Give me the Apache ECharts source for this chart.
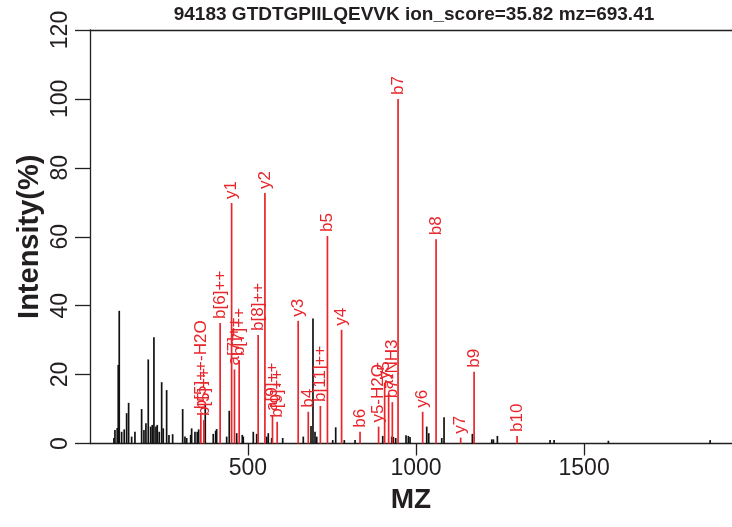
<!DOCTYPE html>
<html>
<head>
<meta charset="utf-8">
<script src="https://cdn.jsdelivr.net/npm/echarts@6/dist/echarts.min.js"></script>
<style>
html,body{margin:0;padding:0;background:#fff;}
#chart{width:732px;height:527px;}
</style>
</head>
<body>
<div id="chart"></div>
<script>
// annotated fragment ions (red)
var ionMz = [359.7, 368.7, 417.2, 451.3, 459.8, 473.8, 530.3, 550.4, 572.9, 586.9,
             649.4, 679.4, 715.4, 736.4, 778.5, 833.4, 888.6, 906.6, 918.5, 929.5,
             946.5, 1019.7, 1059.6, 1132.8, 1172.7, 1300.7];
var ionIntensity = [8.8, 6.8, 35.0, 69.8, 21.5, 24.2, 31.5, 72.7, 8.3, 6.3,
                    35.6, 9.2, 10.9, 60.2, 33.0, 3.4, 4.9, 17.5, 14.6, 12.0,
                    100, 9.2, 59.3, 1.7, 20.8, 2.2];
var ionLabels = ['b[5]++-H2O', 'b[5]++', 'b[6]++', 'y1', 'a[7]++', 'b[7]++', 'b[8]++', 'y2', 'a[9]++', 'b[9]++',
                 'y3', 'b4', 'b[11]++', 'b5', 'y4', 'b6', 'y5-H2O', 'y5', 'a7', 'b7-NH3',
                 'b7', 'y6', 'b8', 'y7', 'b9', 'b10'];

// unannotated peaks (black)
var peakMz = [101.2, 104.2, 111.0, 114.0, 117.0, 124.1, 131.8, 139.0, 144.9, 153.9,
              163.7, 183.6, 190.5, 196.4, 203.3, 210.4, 215.2, 220.2, 226.2, 230.1,
              236.0, 243.2, 247.9, 258.0, 264.9, 275.9, 305.7, 312.5, 317.6, 329.5,
              332.4, 342.3, 349.1, 353.3, 372.9, 396.7, 403.9, 406.8, 436.6, 444.3,
              466.4, 483.0, 486.0, 515.8, 525.9, 555.7, 560.4, 570.5, 603.3, 664.6,
              687.5, 693.4, 699.4, 704.5, 752.1, 761.0, 786.6, 818.5, 900.9, 927.7,
              932.4, 939.6, 970.2, 977.1, 982.1, 1031.8, 1037.8, 1076.5, 1083.3, 1167.6,
              1225.3, 1230.1, 1242.0, 1398.8, 1410.7, 1572.3, 1875.0];
var peakIntensity = [1.6, 3.9, 4.5, 22.8, 38.5, 3.4, 4.1, 8.8, 11.8, 2.0,
                     3.4, 10.0, 3.9, 5.9, 24.4, 4.9, 5.4, 30.8, 4.9, 5.4,
                     3.4, 17.8, 4.4, 15.5, 2.5, 2.7, 10.0, 2.0, 1.6, 2.5,
                     4.4, 3.4, 3.4, 4.1, 11.5, 2.8, 3.7, 4.2, 2.0, 9.5,
                     3.0, 2.5, 2.0, 3.4, 2.8, 2.0, 3.0, 1.6, 1.6, 2.0,
                     5.1, 36.3, 3.4, 2.0, 1.0, 4.7, 1.0, 1.0, 2.2, 2.0,
                     1.9, 1.6, 2.4, 2.2, 1.9, 4.9, 3.0, 1.6, 7.6, 2.8,
                     1.2, 1.2, 2.2, 1.0, 1.0, 0.8, 1.0];

var xTicks = [500, 1000, 1500];
var titleText = '94183 GTDTGPIILQEVVK ion_score=35.82 mz=693.41';

var ink = '#231f20';
var red = '#e8262b';
var font = '"Liberation Sans", Arial, sans-serif';

var ionData = ionMz.map(function (m, i) { return [m, ionIntensity[i]]; });
var peakData = peakMz.map(function (m, i) { return [m, peakIntensity[i]]; });

function drawPeak(color, labels) {
    return function (params, api) {
        var base = api.coord([api.value(0), 0]);
        var top = api.coord([api.value(0), api.value(1)]);
        var kids = [{
            type: 'line',
            shape: {x1: base[0], y1: base[1], x2: top[0], y2: top[1]},
            style: {stroke: color, lineWidth: 1.7}
        }];
        if (labels) {
            kids.push({
                type: 'text',
                x: top[0],
                y: top[1] - 4,
                rotation: Math.PI / 2,
                style: {
                    text: labels[params.dataIndex],
                    fill: color,
                    font: '17px ' + font,
                    align: 'left',
                    verticalAlign: 'middle'
                }
            });
        }
        return {type: 'group', children: kids};
    };
}

var myChart = echarts.init(document.getElementById('chart'));
var option = {
    backgroundColor: '#fff',
    animation: false,
    title: {
        text: titleText,
        left: 409,
        top: 0,
        textAlign: 'center',
        textStyle: {fontSize: 19, fontWeight: 'bold', color: ink, fontFamily: font}
    },
    grid: {left: 90, right: 0, top: 30, bottom: 83.5, outerBoundsMode: 'none'},
    xAxis: [{
        type: 'value',
        min: 30,
        max: 1940,
        name: 'MZ',
        nameLocation: 'middle',
        nameGap: 43,
        nameMoveOverlap: false,
        nameTextStyle: {fontSize: 28, fontWeight: 'bold', color: ink, fontFamily: font},
        axisLine: {show: true, onZero: false, lineStyle: {color: ink, width: 1.3}},
        axisTick: {show: true, length: 12, customValues: xTicks, lineStyle: {color: ink, width: 1.3}},
        axisLabel: {
            customValues: xTicks,
            fontSize: 23, color: ink, fontFamily: font, margin: 14,
            formatter: function (v) { return String(v); }
        },
        splitLine: {show: false}
    }, {
        type: 'value',
        position: 'top',
        min: 30,
        max: 1940,
        axisLine: {show: true, onZero: false, lineStyle: {color: ink, width: 1.3}},
        axisTick: {show: false},
        axisLabel: {show: false},
        splitLine: {show: false}
    }],
    yAxis: {
        type: 'value',
        min: 0,
        max: 120,
        interval: 20,
        name: 'Intensity(%)',
        nameLocation: 'middle',
        nameGap: 46,
        nameMoveOverlap: false,
        nameTextStyle: {fontSize: 29, fontWeight: 'bold', color: ink, fontFamily: font},
        axisLine: {show: true, lineStyle: {color: ink, width: 1.3}},
        axisTick: {show: true, length: 15, lineStyle: {color: ink, width: 1.3}},
        axisLabel: {rotate: 90, fontSize: 23, color: ink, fontFamily: font, margin: 18},
        splitLine: {show: false}
    },
    series: [{
        type: 'custom',
        name: 'peaks',
        data: peakData,
        encode: {x: 0, y: 1},
        renderItem: drawPeak('#111')
    }, {
        type: 'custom',
        name: 'ions',
        data: ionData,
        encode: {x: 0, y: 1},
        renderItem: drawPeak(red, ionLabels)
    }]
};
myChart.setOption(option);
</script>
</body>
</html>
